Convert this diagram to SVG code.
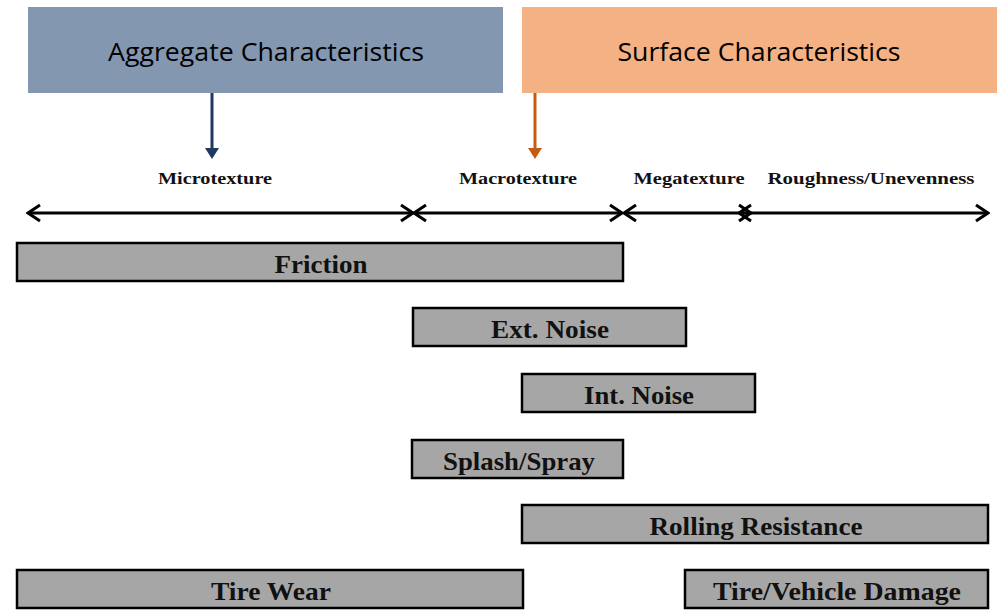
<svg xmlns="http://www.w3.org/2000/svg" width="1004" height="610" viewBox="0 0 1004 610">
<style>
.hdr{font-family:"Open Sans","Liberation Sans",sans-serif;font-size:26px;fill:#000;text-anchor:middle}
.scale{font-family:"Liberation Serif","DejaVu Serif",serif;font-size:16px;font-weight:bold;fill:#111;text-anchor:middle}
.bar{fill:#A6A6A6;stroke:#000;stroke-width:2.5}
.bl{font-family:"Liberation Serif","DejaVu Serif",serif;font-size:26px;font-weight:bold;fill:#111;text-anchor:middle}
.axis{stroke:#000;stroke-width:3;fill:none}
</style>
<defs>
<marker id="chev" viewBox="0 0 16 20" refX="14" refY="10" markerWidth="16" markerHeight="20" markerUnits="userSpaceOnUse" orient="auto-start-reverse">
<path d="M2,2 L14,10 L2,18" fill="none" stroke="#000" stroke-width="3"/>
</marker>
</defs>
<rect width="1004" height="610" fill="#fff"/>
<g id="aggregate">
<rect x="28" y="7" width="475" height="86" fill="#8497B0"/>
<text class="hdr" x="266" y="61" textLength="316" lengthAdjust="spacingAndGlyphs">Aggregate Characteristics</text>
</g>
<g id="surface">
<rect x="522" y="7" width="475" height="86" fill="#F4B183"/>
<text class="hdr" x="759" y="61" textLength="283" lengthAdjust="spacingAndGlyphs">Surface Characteristics</text>
</g>
<g id="labels">
<text class="scale" x="215" y="184" textLength="114" lengthAdjust="spacingAndGlyphs">Microtexture</text>
<text class="scale" x="518" y="184" textLength="118" lengthAdjust="spacingAndGlyphs">Macrotexture</text>
<text class="scale" x="689" y="184" textLength="111" lengthAdjust="spacingAndGlyphs">Megatexture</text>
<text class="scale" x="871" y="184" textLength="207" lengthAdjust="spacingAndGlyphs">Roughness/Unevenness</text>
</g>
<g id="connectors">
<line x1="212" y1="93" x2="212" y2="150" stroke="#1F3864" stroke-width="3"/>
<path d="M205,148 L219,148 L212,159 Z" fill="#1F3864"/>
<line x1="535" y1="93" x2="535" y2="150" stroke="#C55A11" stroke-width="3"/>
<path d="M528,148 L542,148 L535,159 Z" fill="#C55A11"/>
<line class="axis" x1="28" y1="213" x2="413" y2="213" marker-start="url(#chev)" marker-end="url(#chev)"/>
<line class="axis" x1="414" y1="213" x2="622" y2="213" marker-start="url(#chev)" marker-end="url(#chev)"/>
<line class="axis" x1="624" y1="213" x2="751" y2="213" marker-start="url(#chev)" marker-end="url(#chev)"/>
<line class="axis" x1="739" y1="213" x2="988" y2="213" marker-start="url(#chev)" marker-end="url(#chev)"/>
</g>
<g id="friction">
<rect class="bar" x="17" y="243" width="606" height="38"/>
<text class="bl" x="321" y="273" textLength="93" lengthAdjust="spacingAndGlyphs">Friction</text>
</g>
<g id="ext-noise">
<rect class="bar" x="413" y="308" width="273" height="38"/>
<text class="bl" x="550" y="338" textLength="118" lengthAdjust="spacingAndGlyphs">Ext. Noise</text>
</g>
<g id="int-noise">
<rect class="bar" x="522" y="374" width="233" height="38"/>
<text class="bl" x="639" y="404" textLength="110" lengthAdjust="spacingAndGlyphs">Int. Noise</text>
</g>
<g id="splash-spray">
<rect class="bar" x="412" y="440" width="211" height="38"/>
<text class="bl" x="519" y="470" textLength="152" lengthAdjust="spacingAndGlyphs">Splash/Spray</text>
</g>
<g id="rolling-resistance">
<rect class="bar" x="522" y="505" width="466" height="38"/>
<text class="bl" x="756" y="535" textLength="213" lengthAdjust="spacingAndGlyphs">Rolling Resistance</text>
</g>
<g id="tire-wear">
<rect class="bar" x="17" y="570" width="506" height="38"/>
<text class="bl" x="271" y="600" textLength="120" lengthAdjust="spacingAndGlyphs">Tire Wear</text>
</g>
<g id="tire-vehicle-damage">
<rect class="bar" x="685" y="570" width="303" height="38"/>
<text class="bl" x="837" y="600" textLength="248" lengthAdjust="spacingAndGlyphs">Tire/Vehicle Damage</text>
</g>
</svg>
